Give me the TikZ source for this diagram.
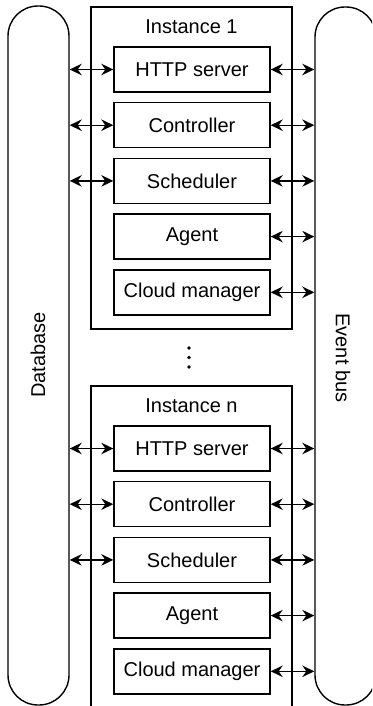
\documentclass[tikz,border=0pt]{standalone}
\usepackage{fontspec}
\setmainfont{Liberation Sans}
\usetikzlibrary{arrows.meta}
\begin{document}
\begin{tikzpicture}[x=1pt,y=-1pt,line width=1.4pt,
  lbl/.style={font=\fontsize{20}{24}\selectfont},
  pill/.style={draw,minimum width=61pt,rounded corners=30pt,inner sep=0pt},
  inst/.style={draw,minimum width=201pt,inner sep=0pt},
  comp/.style={draw,lbl,minimum width=156pt,minimum height=45pt,inner sep=0pt},
  link/.style={{Stealth[length=12pt,width=11.5pt,inset=4pt]}-{Stealth[length=12pt,width=11.5pt,inset=4pt]}}]
\useasboundingbox (0,0) rectangle (372,706);
\clip (0,0) rectangle (372,706);

% shared stores on both sides
\node[pill,minimum height=699pt] (db) at (38.5,355.5) {};
\node[lbl,rotate=90] (dblabel) at (38,355) {Database};
\node[pill,minimum height=698pt] (bus) at (345.5,356) {};
\node[lbl,rotate=-90] (buslabel) at (343,358) {Event bus};

% instance frames
\node[inst,minimum height=322pt] (inst1) at (191.5,168) {};
\node[lbl] (title1) at (191.5,27) {Instance 1};
\node[inst,minimum height=354pt] (instn) at (191.5,563) {};
\node[lbl] (titlen) at (191.5,406) {Instance n};

% components of each instance
\foreach \k/\dy in {1/0,n/379} {
  \foreach \name [count=\i from 0] in {HTTP server,Controller,Scheduler,Agent,Cloud manager} {
    \node[comp] (c\k\i) at (192,{69.5+55.7*\i+\dy}) {\name};
    \draw[link] (c\k\i.east) -- (bus.west |- c\k\i);
  }
  \foreach \i in {0,1,2} {
    \draw[link] (db.east |- c\k\i) -- (c\k\i.west);
  }
}

% ellipsis between instances
\foreach \y in {348,357.5,367} \fill (189,\y) circle (1.8);
\end{tikzpicture}
\end{document}
